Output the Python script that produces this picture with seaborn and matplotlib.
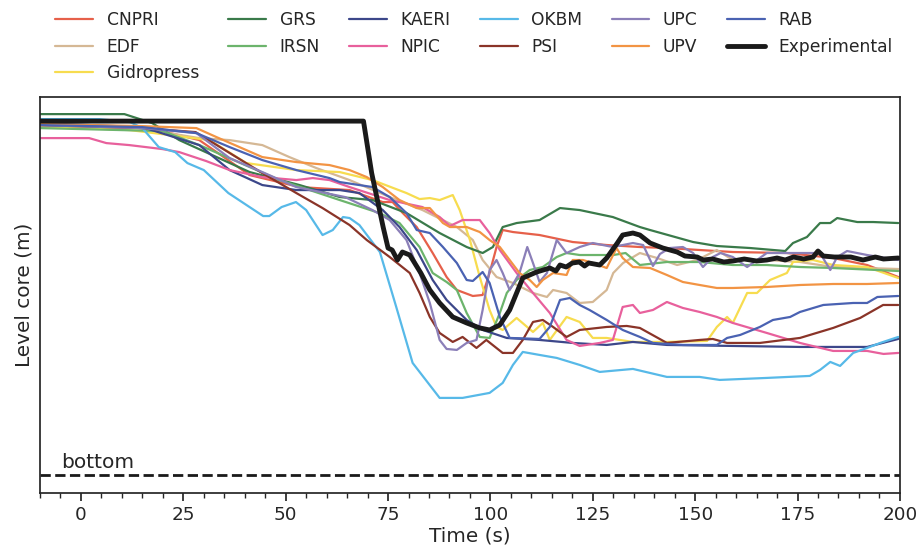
import numpy as np
import matplotlib
matplotlib.use("Agg")
import matplotlib.pyplot as plt
from matplotlib.ticker import MultipleLocator
import seaborn as sns

sns.set_theme(style="ticks", context="notebook", font_scale=1.2)
plt.rcParams['font.family'] = ['DejaVu Sans']

# time (s) / core level (m), one pair of arrays per code
cnpri_t = [-10, 16.7, 28.9, 41.2, 53.4, 65.6, 73.7, 76.1, 78.6, 82, 85.9, 89.3, 91.8, 95.7, 98.1, 99.8, 101.5, 103,
           105.5, 112, 120.1, 128.4, 136.5, 143.1, 159.2, 172.4, 183.7, 192, 199.6]
cnpri_y = [3.50, 3.47, 3.35, 3.00, 2.88, 2.85, 2.73, 2.73, 2.62, 2.48, 2.22, 1.98, 1.85, 1.79, 1.80, 2.02, 2.28, 2.45,
           2.43, 2.40, 2.33, 2.30, 2.28, 2.27, 2.23, 2.22, 2.17, 2.10, 1.98]

edf_t = [-10, 14, 28.9, 36.3, 44.3, 50.9, 57.5, 65.6, 75.4, 83.4, 91.8, 95.7, 98.1, 101.5, 105.5, 110.4, 113.8, 115.3,
         118.6, 121.8, 125, 128.4, 130, 132.4, 136.5, 140.7, 145.6, 150.5, 155.3, 159.2, 167.5, 175.6, 183.7, 199.6]
edf_y = [3.48, 3.47, 3.37, 3.35, 3.30, 3.18, 3.07, 2.95, 2.78, 2.65, 2.48, 2.35, 2.15, 1.98, 1.92, 1.82, 1.78, 1.85,
         1.82, 1.72, 1.73, 1.85, 2.02, 2.12, 2.22, 2.17, 2.10, 2.15, 2.25, 2.15, 2.15, 2.13, 2.08, 2.06]

gidro_t = [-10, 12, 31.4, 40.4, 52.6, 63.2, 71.2, 79.5, 82.7, 85.2, 87.6, 90.8, 92.5, 95, 97.4, 99.8, 101.5, 103, 106.4,
           110.4, 112.8, 114.5, 118.6, 121.8, 125, 128.4, 134.8, 143.1, 152.9, 155.3, 157.8, 159.2, 162.7, 165.1, 168.3,
           172.4, 173.9, 178.8, 183.7, 192, 199.6]
gidro_y = [3.49, 3.45, 3.35, 3.12, 3.05, 3.03, 2.95, 2.82, 2.76, 2.77, 2.75, 2.80, 2.65, 2.35, 1.98, 1.65, 1.48, 1.45,
           1.57, 1.43, 1.52, 1.35, 1.58, 1.53, 1.37, 1.37, 1.33, 1.33, 1.34, 1.48, 1.58, 1.52, 1.82, 1.82, 1.95, 2.02,
           2.13, 2.15, 2.10, 2.08, 1.97]

grs_t = [-10, 10.6, 17.4, 24, 41.2, 53.4, 63.2, 71.2, 79.5, 87.6, 94.2, 98.1, 100.6, 103, 106.4, 112, 117, 121.8, 129.9,
         136.5, 139, 149.5, 155.3, 163.4, 172, 173.9, 177.3, 180.5, 183, 184.7, 189.6, 193.5, 199.6]
grs_y = [3.61, 3.61, 3.52, 3.35, 3.03, 2.90, 2.78, 2.75, 2.62, 2.42, 2.28, 2.22, 2.28, 2.48, 2.52, 2.55, 2.67, 2.65,
         2.58, 2.48, 2.45, 2.33, 2.29, 2.27, 2.24, 2.32, 2.38, 2.52, 2.52, 2.57, 2.53, 2.53, 2.52]

irsn_t = [-10, 20, 28.9, 48.5, 63.2, 72.9, 77.8, 82.7, 85.9, 89.3, 91.8, 94.2, 97.4, 99.8, 102.3, 104, 106.4, 109.6,
          112.8, 116.2, 118.6, 121.8, 130, 133, 136.5, 143.1, 151.1, 159.2, 167.5, 175.6, 183.7, 199.6]
irsn_y = [3.47, 3.44, 3.30, 2.95, 2.75, 2.62, 2.52, 2.28, 2.02, 1.93, 1.85, 1.62, 1.38, 1.37, 1.62, 1.82, 1.95, 2.05,
          2.08, 2.18, 2.22, 2.20, 2.20, 2.22, 2.10, 2.13, 2.13, 2.10, 2.10, 2.08, 2.07, 2.04]

kaeri_t = [-10, 15, 28.9, 36.3, 44.3, 52.6, 63.2, 68, 73.7, 77.8, 82, 85.9, 89.3, 94.2, 98.1, 104, 112, 120.1, 128.4,
           134.8, 143.1, 159.2, 175.6, 192, 199.6]
kaeri_y = [3.52, 3.48, 3.30, 3.05, 2.90, 2.85, 2.85, 2.82, 2.65, 2.48, 2.25, 1.95, 1.75, 1.55, 1.45, 1.37, 1.35, 1.32,
           1.30, 1.33, 1.30, 1.29, 1.28, 1.28, 1.36]

npic_t = [-10, 2, 6.2, 11.8, 19.9, 24, 30.6, 36.3, 44.3, 52.6, 56.6, 60.7, 65.6, 75.4, 83.4, 87.6, 90.1, 93.2, 97.4,
          99.8, 102.3, 106.4, 110.4, 114.5, 118.6, 121.8, 126.7, 129.9, 132.3, 134.8, 136.5, 139.7, 143.1, 147, 151.1,
          155.3, 159.2, 167.5, 175.6, 183.7, 192, 196, 199.6]
npic_y = [3.37, 3.37, 3.32, 3.30, 3.26, 3.23, 3.14, 3.05, 2.98, 2.95, 2.97, 2.95, 2.88, 2.75, 2.68, 2.58, 2.49, 2.55,
          2.55, 2.42, 2.25, 2.02, 1.82, 1.62, 1.35, 1.29, 1.32, 1.35, 1.68, 1.70, 1.62, 1.65, 1.73, 1.67, 1.63, 1.58,
          1.52, 1.42, 1.32, 1.24, 1.24, 1.21, 1.22]

okbm_t = [-10, 4.5, 12, 15, 19, 23, 26, 30, 36, 44.5, 46, 49, 52.5, 55, 59, 61.5, 64, 65.6, 68, 73, 77, 81, 87.6, 93.2,
          99.8, 103, 105.5, 107.9, 112, 116.2, 121.8, 126.7, 134.8, 143.1, 151.1, 156, 167.5, 178, 180.5, 183, 185.4,
          188.6, 192, 195.2, 199.6]
okbm_y = [3.56, 3.56, 3.53, 3.47, 3.28, 3.23, 3.12, 3.05, 2.82, 2.59, 2.59, 2.68, 2.73, 2.65, 2.40, 2.45, 2.58, 2.57,
          2.50, 2.23, 1.68, 1.12, 0.77, 0.77, 0.82, 0.92, 1.10, 1.23, 1.20, 1.17, 1.10, 1.03, 1.06, 0.98, 0.98, 0.95,
          0.97, 0.99, 1.05, 1.13, 1.09, 1.22, 1.27, 1.32, 1.38]

psi_t = [-10, 15, 28, 44.3, 52.6, 59, 65.6, 69.8, 75.4, 80.3, 82.7, 85.2, 87.6, 90.8, 93.2, 96.6, 99, 103, 105.5, 107.9,
         110.4, 112.8, 115.3, 118.6, 121.8, 128.4, 133.3, 136.5, 143.1, 151.1, 154.3, 157.8, 165.8, 175.6, 183.7, 190.3,
         195.9, 199.6]
psi_y = [3.50, 3.47, 3.43, 3.02, 2.82, 2.67, 2.50, 2.35, 2.18, 2.02, 1.82, 1.58, 1.42, 1.33, 1.38, 1.27, 1.35, 1.22,
         1.22, 1.35, 1.53, 1.55, 1.48, 1.38, 1.45, 1.48, 1.49, 1.47, 1.32, 1.35, 1.36, 1.32, 1.32, 1.37, 1.47, 1.57,
         1.70, 1.70]

upc_t = [-10, 15, 28.2, 36.3, 44.3, 52.6, 64.5, 71.2, 75.4, 79.5, 82.7, 85.2, 87.6, 89.3, 91.8, 94.2, 96.6, 98.1, 99.8,
         101.5, 103, 104.7, 107.1, 109, 110.4, 112, 113.8, 116.2, 118.6, 121.8, 125, 129.9, 134.8, 137.3, 139.7, 141.4,
         143.8, 147, 149.5, 151.9, 154.3, 156.2, 159.2, 162.7, 165.1, 167.5, 174, 180.5, 183, 184.7, 187.1, 192, 199.6]
upc_y = [3.50, 3.47, 3.42, 3.17, 3.03, 2.88, 2.78, 2.65, 2.55, 2.35, 2.02, 1.72, 1.35, 1.26, 1.25, 1.32, 1.35, 1.65,
         2.05, 2.15, 2.02, 1.85, 2.02, 2.28, 2.12, 1.93, 2.02, 2.35, 2.22, 2.28, 2.32, 2.28, 2.32, 2.30, 2.09, 2.21,
         2.27, 2.28, 2.22, 2.08, 2.18, 2.22, 2.18, 2.08, 2.15, 2.22, 2.22, 2.22, 2.05, 2.18, 2.24, 2.20, 2.15]

upv_t = [-10, 15, 28.2, 33.1, 44.3, 52.6, 60.7, 65.6, 69.8, 73.7, 77.8, 82, 85.2, 88.4, 90.1, 94.2, 97.4, 99.8, 102.3,
         104.7, 107.1, 109.6, 111.3, 112.8, 115.3, 118.6, 120.1, 122.6, 125, 128.4, 130.8, 132.3, 134.8, 139, 143.1,
         147, 151.1, 155.3, 159.2, 167.5, 175.6, 183.7, 192, 199.6]
upv_y = [3.51, 3.49, 3.47, 3.38, 3.18, 3.13, 3.10, 3.05, 2.98, 2.88, 2.75, 2.67, 2.67, 2.52, 2.48, 2.48, 2.43, 2.35,
         2.28, 2.15, 2.02, 1.95, 1.88, 1.95, 2.02, 2.00, 2.15, 2.15, 2.12, 2.07, 2.27, 2.17, 2.08, 2.07, 2.00, 1.93,
         1.90, 1.87, 1.87, 1.88, 1.90, 1.91, 1.91, 1.92]

rab_t = [-10, 15, 28.2, 36.3, 44.3, 52.6, 60.7, 63.2, 71.2, 75.4, 79.5, 82, 85.2, 88.4, 91.8, 94.2, 95.7, 98.1, 99.8,
         102.3, 104.7, 112, 114.5, 117, 119.4, 121.8, 124.2, 128.4, 132.3, 136.5, 139.7, 147, 155.3, 157.8, 161, 165.8,
         169, 173.2, 175.6, 181.3, 188.6, 192, 194.5, 199.6]
rab_y = [3.50, 3.48, 3.42, 3.28, 3.15, 3.05, 2.97, 2.93, 2.88, 2.78, 2.62, 2.45, 2.42, 2.28, 2.12, 1.95, 1.94, 2.03,
         1.92, 1.58, 1.37, 1.36, 1.48, 1.75, 1.77, 1.70, 1.65, 1.55, 1.45, 1.38, 1.32, 1.30, 1.30, 1.37, 1.40, 1.48,
         1.55, 1.58, 1.63, 1.70, 1.72, 1.72, 1.78, 1.79]

exp_t = [-10, 69, 71, 73.8, 75, 76, 77.3, 78.5, 80.3, 83, 85.2, 87.6, 90.8, 94.2, 97.4, 99.8, 102.3, 104.7, 106.4,
         107.9, 111.3, 114.5, 116, 117, 118.5, 120, 121.7, 123, 124, 126.7, 128.4, 131, 132.3, 134.8, 136.5, 139, 142.1,
         145.6, 147.5, 150.5, 152, 154.3, 157, 159.2, 162, 165, 167.5, 170, 172, 174, 176.5, 178.8, 180, 181.3, 184,
         188, 191, 194, 196, 199.6]
exp_y = [3.54, 3.54, 3.02, 2.48, 2.27, 2.25, 2.15, 2.23, 2.20, 2.02, 1.85, 1.72, 1.58, 1.52, 1.47, 1.45, 1.50, 1.65,
         1.82, 1.97, 2.03, 2.07, 2.04, 2.10, 2.08, 2.12, 2.13, 2.09, 2.12, 2.10, 2.17, 2.32, 2.40, 2.42, 2.40, 2.32,
         2.27, 2.23, 2.19, 2.18, 2.15, 2.16, 2.13, 2.14, 2.16, 2.14, 2.15, 2.17, 2.15, 2.18, 2.16, 2.18, 2.24, 2.19,
         2.18, 2.18, 2.15, 2.18, 2.16, 2.17]

bottom_level = 0.0

codes = ["CNPRI", "EDF", "Gidropress", "GRS", "IRSN", "KAERI", "NPIC", "OKBM", "PSI", "UPC", "UPV", "RAB"]
series = {
    "CNPRI": (cnpri_t, cnpri_y), "EDF": (edf_t, edf_y), "Gidropress": (gidro_t, gidro_y),
    "GRS": (grs_t, grs_y), "IRSN": (irsn_t, irsn_y), "KAERI": (kaeri_t, kaeri_y),
    "NPIC": (npic_t, npic_y), "OKBM": (okbm_t, okbm_y), "PSI": (psi_t, psi_y),
    "UPC": (upc_t, upc_y), "UPV": (upv_t, upv_y), "RAB": (rab_t, rab_y),
}
colores = {
    "CNPRI": "#e6604a", "EDF": "#d5b895", "Gidropress": "#f7dc4f", "GRS": "#3a7a4a",
    "IRSN": "#6cb46c", "KAERI": "#3c478a", "NPIC": "#e8609c", "OKBM": "#57b9e8",
    "PSI": "#8a3428", "UPC": "#8b7fb8", "UPV": "#f29444", "RAB": "#4a62b2",
}

fig, ax = plt.subplots(figsize=(9.22, 5.55), dpi=100)
fig.subplots_adjust(left=0.0434, right=0.976, top=0.825, bottom=0.112)

for c in codes:
    t, y = series[c]
    sns.lineplot(x=t, y=y, ax=ax, color=colores[c], label=c, linewidth=1.6, sort=False)
sns.lineplot(x=exp_t, y=exp_y, ax=ax, color="#1a1a1a", label="Experimental", linewidth=3.5, sort=False, zorder=5)

ax.axhline(bottom_level, color="#1a1a1a", linestyle="--", linewidth=2)
ax.text(-4.8, bottom_level + 0.03, "bottom", fontsize=14.5, va="bottom", ha="left", color="#262626")

ax.set_xlim(-10, 200)
ax.set_ylim(-0.18, 3.78)
ax.set_yticks([])
ax.xaxis.set_major_locator(MultipleLocator(25))
ax.xaxis.set_minor_locator(MultipleLocator(5))
ax.tick_params(axis="x", which="minor", length=3.5)
ax.set_xlabel("Time (s)", labelpad=2)
ax.set_ylabel("Level core (m)", labelpad=5)

ax.legend(loc="lower left", bbox_to_anchor=(0.01, 1.02), ncol=6, frameon=False, fontsize=12.3,
          borderaxespad=0, columnspacing=1.72, handlelength=2.2, handletextpad=0.8)

plt.savefig("out.png", dpi=100)
